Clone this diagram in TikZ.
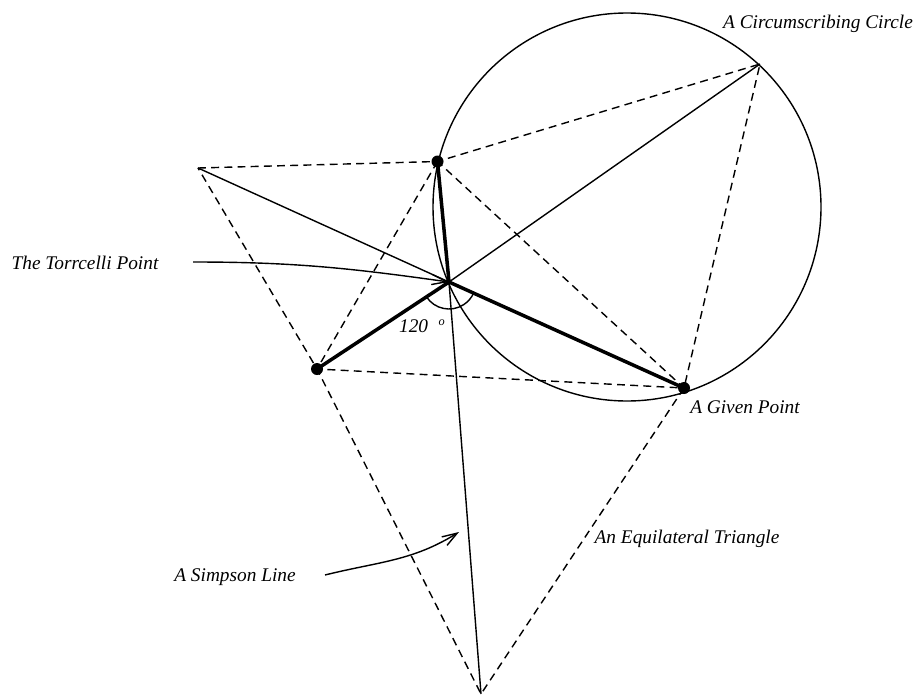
\documentclass[tikz,border=0pt]{standalone}
\usepackage{fontspec}
\setmainfont{Liberation Serif}
\usetikzlibrary{arrows.meta, calc}
\tikzset{
  every picture/.style={line width=0.8pt},
  lbl/.style={font=\fontsize{11}{13}\selectfont\itshape, inner sep=0pt},
  construct/.style={dash pattern=on 4.5pt off 3pt, line width=0.8pt},
  spoke/.style={line width=2pt},
  pt/.style={circle, fill=black, inner sep=0pt, minimum size=0.24cm},
  pointer/.style={-{Straight Barb[length=3mm, width=2mm]}, line width=0.8pt},
}

\begin{document}
\begin{tikzpicture}
  \useasboundingbox (0,0) rectangle (18.36,13.90);
  % ---- the three given points, the apexes of the equilateral triangles ----
  \coordinate (A) at (8.75,10.67);
  \coordinate (B) at (6.34,6.52);
  \coordinate (C) at (13.68,6.14);
  \coordinate (PA) at (3.96,10.54);
  \coordinate (PC) at (15.20,12.62);
  \coordinate (PD) at (9.62,0.02);
  \coordinate (T) at (8.98,8.26);
  \coordinate (O) at (12.54,9.76);
  % ---- circle through A, C and the apex ----
  \draw (O) circle (3.88);
  % ---- dashed construction ----
  \draw[construct] (A) -- (B) -- (C) -- cycle;
  \draw[construct] (PA) -- (A) -- (PC) -- (C) -- (PD) -- (B) -- cycle;
  \draw (PA) -- (T); \draw (PC) -- (T); \draw (T) -- (PD);
  \draw[spoke] (T) -- (A); \draw[spoke] (T) -- (B); \draw[spoke] (T) -- (C);
  \draw (T) ++(213:0.54) arc[start angle=213, end angle=336, radius=0.54];
  \node[pt] (a) at (A) {};
  \node[pt] (b) at (B) {};
  \node[pt] (c) at (C) {};
  % ---- labels ----
  \node[lbl] (angle) at (8.44,7.38) {120\hspace{6pt}\raisebox{4pt}{\scriptsize o}};
  \node[lbl] (circlbl) at (16.36,13.42) {A Circumscribing Circle};
  \node[lbl] (givenlbl) at (14.90,5.76) {A Given Point};
  \node[lbl] (equilbl) at (13.74,3.12) {An Equilateral Triangle};
  \node[lbl] (torrlbl) at (1.70,8.64) {The Torrcelli Point};
  \node[lbl] (simplbl) at (4.70,2.36) {A Simpson Line};
  \coordinate (torrtail) at (3.86,8.66);
  \coordinate (simptail) at (6.50,2.40);
  \coordinate (simphead) at (9.18,3.26);
  \draw[pointer] (torrtail) to[out=0, in=172] (T);
  \draw[pointer] (simptail) to[out=14, in=212] (simphead);
\end{tikzpicture}
\end{document}
